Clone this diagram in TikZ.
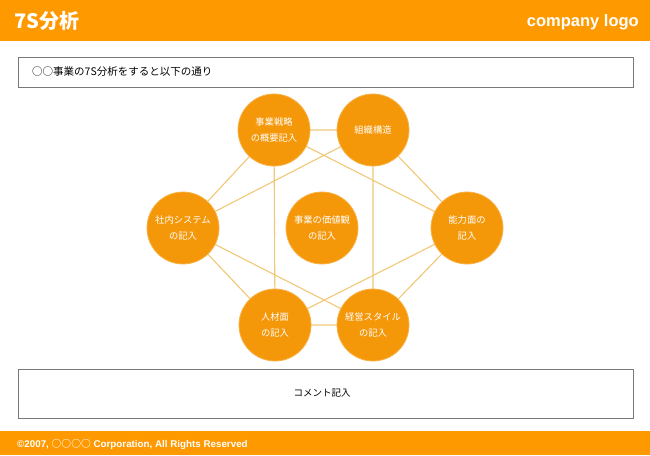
\documentclass[tikz,border=0pt]{standalone}
\usepackage{fontspec}
\usetikzlibrary{backgrounds}
\setmainfont{Noto Sans CJK JP}
\newfontfamily\arialfont{Liberation Sans}
\definecolor{barorange}{RGB}{255,153,0}
\definecolor{circorange}{RGB}{244,152,10}
\definecolor{circedge}{RGB}{248,178,70}
\definecolor{linktan}{RGB}{240,200,120}
\definecolor{boxgray}{RGB}{120,120,120}
\begin{document}
\begin{tikzpicture}[x=1pt,y=-1pt,
  sbox/.style={draw=boxgray,line width=0.9pt,fill=white},
  sball/.style={circle,fill=circorange,draw=circedge,line width=0.8pt,minimum size=72pt,inner sep=0pt,text=white,font=\fontsize{9.3}{16}\selectfont,align=center},
  link/.style={draw=linktan,line width=1.1pt}]
\useasboundingbox (0,0) rectangle (650,455);
% header
\fill[barorange] (0,0) rectangle (650,41);
\node[anchor=west,text=white,font=\fontsize{20}{22}\bfseries\selectfont,inner sep=0pt] (title) at (14,21) {7S分析};
\node[anchor=east,text=white,font=\arialfont\fontsize{16.5}{18}\bfseries\selectfont,inner sep=0pt] (logo) at (639,22) {company logo};
% top box
\draw[sbox] (18,57) rectangle (633,87);
\node[anchor=west,font=\fontsize{10.5}{12}\selectfont,inner sep=0pt] (lead) at (32,72) {○○事業の7S分析をすると以下の通り};
% circles
\node[sball] (a) at (274,130) {事業戦略\\の概要記入};
\node[sball] (b) at (373,130) {組織構造};
\node[sball] (c) at (183,228) {社内システム\\の記入};
\node[sball] (d) at (322,228) {事業の価値観\\の記入};
\node[sball] (e) at (467,228) {能力面の\\記入};
\node[sball] (f) at (275,325) {人材面\\の記入};
\node[sball] (g) at (373,325) {経営スタイル\\の記入};
\begin{scope}[on background layer]
\fill[white] (0,0) rectangle (650,455);
\path[link] (a.center) -- (b.center) (a.center) -- (c.center) (b.center) -- (e.center)
  (c.center) -- (f.center) (e.center) -- (g.center) (f.center) -- (g.center)
  (a.center) -- (f.center) (b.center) -- (g.center) (a.center) -- (e.center)
  (b.center) -- (c.center) (c.center) -- (g.center) (f.center) -- (e.center);
\end{scope}
% comment box
\draw[sbox] (18,369) rectangle (633,418);
\node[font=\fontsize{9.5}{11}\selectfont,inner sep=0pt] (comment) at (322,393.5) {コメント記入};
% footer
\fill[barorange] (0,431) rectangle (650,455);
\node[anchor=west,text=white,font=\arialfont\fontsize{9.8}{11}\bfseries\selectfont,inner sep=0pt] (foot) at (17,444) {©2007, {\fontspec{Noto Sans CJK JP}○○○○} Corporation, All Rights Reserved};
\end{tikzpicture}
\end{document}
